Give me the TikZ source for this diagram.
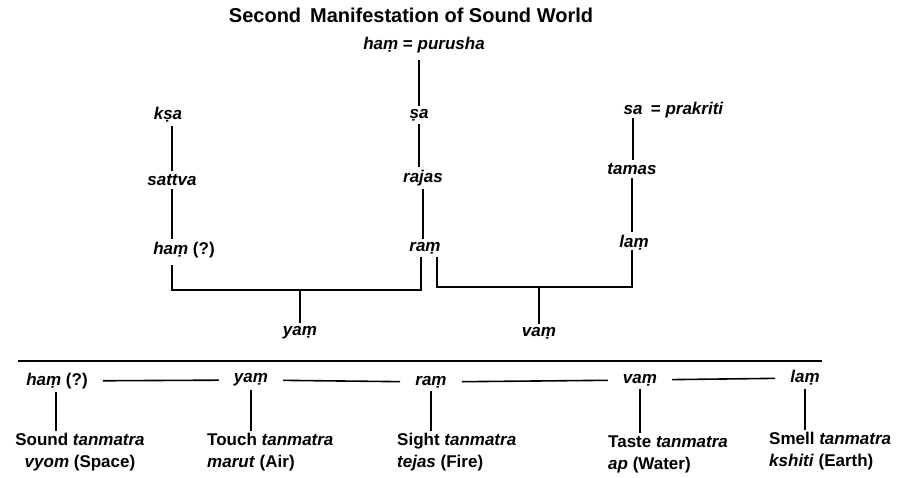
\documentclass[tikz,border=0pt]{standalone}
\usepackage{fontspec}
\setmainfont{Liberation Sans}
\usepackage{tikz}
\usetikzlibrary{positioning}

\begin{document}
\begin{tikzpicture}[
  x=1pt,y=-1pt,
  lbl/.style={font=\fontsize{17}{19}\selectfont\bfseries\itshape,inner sep=3pt},
  tmt/.style={font=\fontsize{17}{22}\selectfont\bfseries,inner sep=2pt},
  bot/.style={lbl,inner xsep=15pt},
  conn/.style={line width=2.4pt},
  thin/.style={line width=1.6pt}
]
\useasboundingbox (0,0) rectangle (899,478);
% upper tree
\node[font=\fontsize{20}{22}\selectfont\bfseries] (title) at (411,15) {Second\, Manifestation of Sound World};
\node[lbl] (purusha) at (424,45) {haṃ \upshape= \itshape purusha};
\node[lbl] (sha) at (419,115) {ṣa};
\node[lbl] (rajas) at (423,178) {rajas};
\node[lbl] (ram) at (425,248) {raṃ};
\node[lbl] (ksa) at (168,115) {kṣa};
\node[lbl] (sattva) at (172,180) {sattva};
\node[lbl] (hamq) at (184,250) {haṃ \upshape(?)};
\node[lbl] (sa) at (633,110) {sa};
\node[lbl,right=2pt of sa] (prakriti) {\upshape= \itshape prakriti};
\node[lbl] (tamas) at (632,169) {tamas};
\node[lbl] (lam) at (634,243) {laṃ};
\node[lbl] (yam) at (300,333) {yaṃ};
\node[lbl] (vam) at (539,333) {vaṃ};
\coordinate (jl) at (300,290);
\coordinate (jr) at (539,287);
\draw[conn] ([xshift=-5pt]purusha.south) ++(0,4) -- ([xshift=0pt]sha.north);
\draw[conn] (sha) -- (sha |- rajas.north);
\draw[conn] (rajas) -- (rajas |- ram.north);
\draw[conn] (ksa.south -| sattva) -- (sattva);
\draw[conn] (sattva) -- (sattva |- hamq.north);
\draw[conn] (sa) -- (sa |- tamas.north);
\draw[conn] (tamas) -- (tamas |- lam.north);
\draw[conn] (sattva |- hamq.south) ++(0,4) |- (jl) -| ([xshift=-4pt]ram.south);
\draw[conn] ([xshift=12pt]ram.south) |- (jr) -| ([yshift=4pt]lam.south -| tamas);
\draw[conn] (jl) -- (yam);
\draw[conn] (jr) -- (vam);
% lower row
\coordinate (rl) at (18,361);
\coordinate (rr) at (822,361);
\draw[conn] (rl) -- (rr);
\node[bot] (bham) at (57,381) {haṃ \upshape(?)};
\node[bot] (byam) at (251,380) {yaṃ};
\node[bot] (bram) at (431,382) {raṃ};
\node[bot] (bvam) at (640,380) {vaṃ};
\node[bot] (blam) at (805,378) {laṃ};
\draw[thin] (bham) -- (byam);
\draw[thin] (byam) -- (bram);
\draw[thin] (bram) -- (bvam);
\draw[thin] (bvam) -- (blam);
\node[tmt,align=center] (sound) at (80,452) {Sound \textit{tanmatra}\\\textit{vyom} (Space)};
\node[tmt,align=left,anchor=west] (touch) at (205,452) {Touch \textit{tanmatra}\\\textit{marut} (Air)};
\node[tmt,align=left,anchor=west] (sight) at (395,452) {Sight \textit{tanmatra}\\\textit{tejas} (Fire)};
\node[tmt,align=left,anchor=west] (taste) at (606,454) {Taste \textit{tanmatra}\\\textit{ap} (Water)};
\node[tmt,align=left,anchor=west] (smell) at (767,451) {Smell \textit{tanmatra}\\\textit{kshiti} (Earth)};
\draw[conn] ([xshift=-1pt]bham.south) -- ([xshift=-1pt]bham.south |- sound.north);
\draw[conn] (byam) -- (byam |- touch.north);
\draw[conn] (bram) -- (bram |- sight.north);
\draw[conn] (bvam) -- (bvam |- taste.north);
\draw[conn] (blam) -- (blam |- smell.north);
\end{tikzpicture}
\end{document}
